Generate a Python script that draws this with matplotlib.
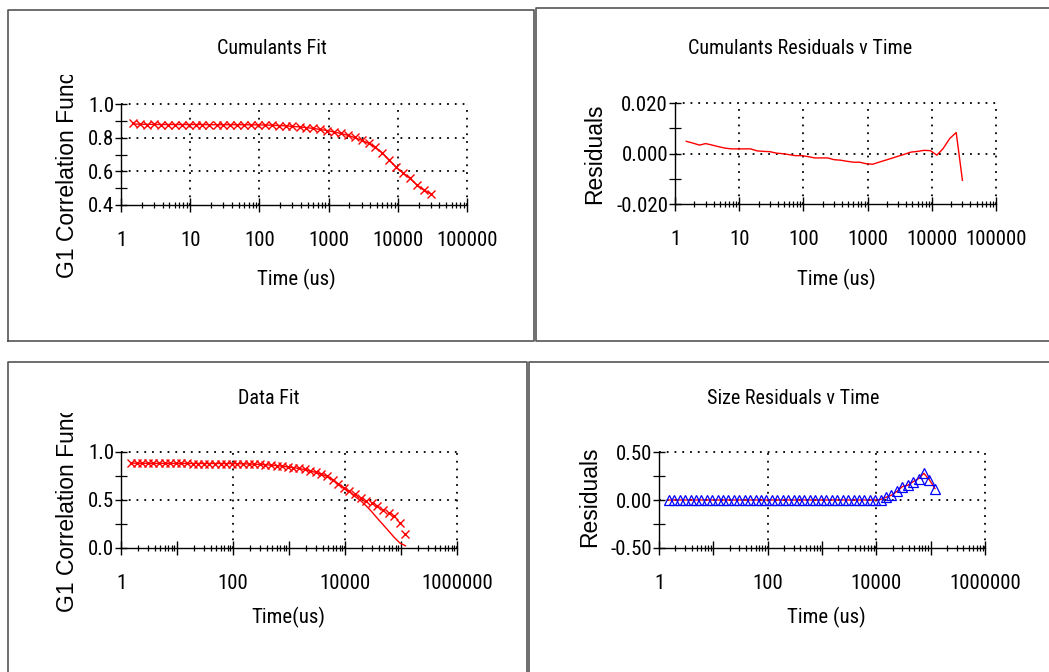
import math
import matplotlib
matplotlib.use("Agg")
import matplotlib.pyplot as plt
from matplotlib import font_manager
from matplotlib.font_manager import FontProperties
from matplotlib.ticker import FixedLocator, FuncFormatter, NullFormatter
from matplotlib.lines import Line2D
from matplotlib.transforms import Bbox

# ---- data -------------------------------------------------------------
tau_us = [1.5, 1.9, 2.4, 3.0, 3.8, 4.7, 6.0, 7.5, 9.5, 12, 15, 19, 24, 30, 38,
          47, 60, 75, 95, 120, 150, 190, 240, 300, 380, 470, 600, 750, 950,
          1200, 1500, 1900, 2400, 3000, 3800, 4700, 6000, 7500, 9500, 12000,
          15000, 19000, 24000, 30000, 38000, 47000, 60000, 75000, 95000, 120000]

g1_measured = [0.886, 0.879, 0.878, 0.879, 0.878, 0.878, 0.878, 0.878, 0.878,
               0.878, 0.878, 0.877, 0.877, 0.877, 0.877, 0.877, 0.877, 0.876,
               0.876, 0.875, 0.874, 0.872, 0.870, 0.867, 0.864, 0.860, 0.855,
               0.849, 0.842, 0.835, 0.826, 0.816, 0.802, 0.786, 0.768, 0.746,
               0.710, 0.668, 0.625, 0.590, 0.560, 0.520, 0.490, 0.465, 0.432,
               0.395, 0.362, 0.330, 0.255, 0.140]

# cumulants fit covers the first 44 delay times (up to 30 ms)
n_cumulants = 44
g1_cumulants_fit = [0.881, 0.880, 0.879, 0.879, 0.878, 0.878, 0.878, 0.878,
                    0.878, 0.878, 0.878, 0.877, 0.877, 0.877, 0.877, 0.877,
                    0.877, 0.876, 0.876, 0.875, 0.874, 0.872, 0.870, 0.867,
                    0.864, 0.860, 0.855, 0.849, 0.842, 0.834, 0.825, 0.814,
                    0.800, 0.784, 0.766, 0.744, 0.709, 0.667, 0.624, 0.589,
                    0.558, 0.518, 0.488, 0.466]

cumulants_residuals = [0.0049, 0.0042, 0.0034, 0.0040, 0.0034, 0.0028, 0.0022,
                       0.0019, 0.0019, 0.0019, 0.0019, 0.0011, 0.0009, 0.0008,
                       0.0002, 0.0000, -0.0004, -0.0008, -0.0008, -0.0012,
                       -0.0017, -0.0017, -0.0017, -0.0024, -0.0026, -0.0030,
                       -0.0034, -0.0034, -0.0040, -0.0042, -0.0034, -0.0026,
                       -0.0018, -0.0010, -0.0002, 0.0006, 0.0009, 0.0013,
                       0.0012, -0.0006, 0.0020, 0.0060, 0.0084, -0.0106]

g1_size_fit = [0.881, 0.880, 0.879, 0.879, 0.878, 0.878, 0.878, 0.878, 0.878,
               0.878, 0.878, 0.877, 0.877, 0.877, 0.877, 0.877, 0.877, 0.876,
               0.876, 0.875, 0.874, 0.872, 0.870, 0.867, 0.864, 0.860, 0.855,
               0.849, 0.842, 0.834, 0.825, 0.814, 0.800, 0.784, 0.766, 0.744,
               0.709, 0.667, 0.624, 0.585, 0.535, 0.490, 0.435, 0.375, 0.305,
               0.245, 0.175, 0.110, 0.050, 0.020]

size_residuals = [0.0] * 39 + [0.005, 0.028, 0.050, 0.090, 0.140, 0.155,
                               0.190, 0.225, 0.280, 0.210, 0.120]

# ---- fonts ------------------------------------------------------------
def _regular(f):
    w = f.weight
    return f.style == "normal" and (w in (400, "normal", "regular", "book"))


def find_narrow_font():
    faces = font_manager.fontManager.ttflist
    for name in ("Liberation Sans Narrow", "Arial Narrow", "Roboto Condensed",
                 "Open Sans Condensed", "Noto Sans Condensed"):
        for f in faces:
            if f.name == name and _regular(f):
                return f.fname
    for fam in ("Noto Sans", "Open Sans", "Roboto", "Inter"):
        for stretch in ("condensed", "semi-condensed"):
            for f in faces:
                if f.name == fam and f.stretch == stretch and _regular(f):
                    return f.fname
    return None


_narrow = find_narrow_font()
if _narrow:
    TXT = FontProperties(fname=_narrow)
    TICK_SIZE, TITLE_SIZE, XLAB_SIZE = 15, 14.5, 15
else:
    TXT = FontProperties(family="Liberation Sans")
    TICK_SIZE, TITLE_SIZE, XLAB_SIZE = 12.5, 12.2, 12.5

W, H = 1049, 672
fig = plt.figure(figsize=(W / 100, H / 100), dpi=100)
fig.patch.set_facecolor("white")


def rect(l, t, r, b):
    return [l / W, 1 - b / H, (r - l) / W, (b - t) / H]


def fpt(x, y):
    return x / W, 1 - y / H


DOT = (0, (1, 3.3))
RED = "#ff0000"
BLUE = "#0000ff"


def style_axes(ax, max_exp, label_step, grid_x, ymajor, yminor, ylim, yfmt):
    ax.set_xscale("log")
    ax.set_xlim(1, 10 ** max_exp)
    ax.set_ylim(*ylim)
    for s in ("top", "right"):
        ax.spines[s].set_visible(False)
    for s in ("left", "bottom"):
        ax.spines[s].set_linewidth(1.0)
        ax.spines[s].set_color("black")
    ax.xaxis.set_major_locator(FixedLocator([10.0 ** k for k in range(max_exp + 1)]))
    ax.xaxis.set_minor_locator(FixedLocator(
        [m * 10.0 ** k for k in range(max_exp) for m in range(2, 10)]))
    ax.xaxis.set_minor_formatter(NullFormatter())
    ax.xaxis.set_major_formatter(FuncFormatter(
        lambda v, p: ("%d" % round(v)) if round(math.log10(v)) % label_step == 0 else ""))
    ax.yaxis.set_major_locator(FixedLocator(ymajor))
    ax.yaxis.set_minor_locator(FixedLocator(yminor))
    ax.yaxis.set_major_formatter(FuncFormatter(lambda v, p: yfmt % v))
    ax.tick_params(axis="x", which="major", direction="inout", length=10, width=1.0,
                   pad=14, labelsize=TICK_SIZE)
    ax.tick_params(axis="x", which="minor", direction="inout", length=5, width=0.9)
    ax.tick_params(axis="y", which="major", direction="inout", length=8, width=1.0,
                   pad=1, labelsize=TICK_SIZE)
    ax.tick_params(axis="y", which="minor", direction="inout", length=8, width=0.9)
    for lbl in ax.get_xticklabels() + ax.get_yticklabels():
        lbl.set_fontproperties(TXT)
        lbl.set_fontsize(TICK_SIZE)
    for gx in grid_x:
        ax.axvline(gx, color="black", lw=1.3, ls=DOT, clip_on=False, zorder=1)
    for gy in ymajor[1:]:
        ax.axhline(gy, color="black", lw=1.3, ls=DOT, clip_on=False, zorder=1)


def panel_text(x, y, s, size):
    fig.text(*fpt(x, y), s, ha="center", va="center", fontproperties=TXT,
             fontsize=size)


def ylabel_text(x, y_bottom, y_clip, s):
    t = fig.text(*fpt(x, y_bottom), s, rotation=90, ha="center", va="bottom",
                 fontsize=16.5, family=["Liberation Sans", "DejaVu Sans"])
    t.set_clip_box(Bbox([[0, 0], [W, H - y_clip]]))
    t.set_clip_on(True)


# ---- Cumulants Fit -----------------------------------------------------
ax1 = fig.add_axes(rect(121, 104, 467, 205))
style_axes(ax1, 5, 1, [10, 100, 1000, 10000, 100000],
           [0.4, 0.6, 0.8, 1.0], [0.5, 0.7, 0.9], (0.4, 1.0), "%.1f")
ax1.plot(tau_us[:n_cumulants], g1_cumulants_fit, color=RED, lw=1.0, zorder=3)
ax1.plot(tau_us[:n_cumulants], g1_measured[:n_cumulants], ls="none", marker="x",
         ms=5.5, mew=1.0, color=RED, zorder=4)
panel_text(272, 49, "Cumulants Fit", TITLE_SIZE)
panel_text(296, 279, "Time (us)", XLAB_SIZE)
ylabel_text(67, 278, 75, "G1 Correlation Function")

# ---- Cumulants Residuals v Time ---------------------------------------
ax2 = fig.add_axes(rect(675, 103.3, 996, 204))
style_axes(ax2, 5, 1, [10, 100, 1000, 10000, 100000],
           [-0.02, 0.0, 0.02], [-0.01, 0.01], (-0.02, 0.02), "%.3f")
ax2.plot(tau_us[:n_cumulants], cumulants_residuals, color=RED, lw=1.0, zorder=3)
panel_text(800, 48, "Cumulants Residuals v Time", TITLE_SIZE)
panel_text(836, 279, "Time (us)", XLAB_SIZE)
ylabel_text(595, 204, 0, "Residuals")

# ---- Data Fit ------------------------------------------------------------
ax3 = fig.add_axes(rect(121, 451.7, 457, 547.7))
style_axes(ax3, 6, 2, [100, 10000, 1000000],
           [0.0, 0.5, 1.0], [0.25, 0.75], (0.0, 1.0), "%.1f")
ax3.plot(tau_us, g1_size_fit, color=RED, lw=1.0, zorder=3)
ax3.plot(tau_us, g1_measured, ls="none", marker="x", ms=5.5, mew=1.0, color=RED,
         zorder=4)
panel_text(269, 399, "Data Fit", TITLE_SIZE)
panel_text(288, 617, "Time(us)", XLAB_SIZE)
ylabel_text(67, 612, 413, "G1 Correlation Function")

# ---- Size Residuals v Time -------------------------------------------------
ax4 = fig.add_axes(rect(659, 452.3, 985, 547.7))
style_axes(ax4, 6, 2, [100, 10000, 1000000],
           [-0.5, 0.0, 0.5], [-0.25, 0.25], (-0.5, 0.5), "%.2f")
ax4.plot(tau_us, size_residuals, color=RED, lw=1.0, zorder=3)
ax4.plot(tau_us, size_residuals, ls="none", marker="^", ms=6.5, mew=0.9,
         mfc="none", mec=BLUE, zorder=4)
panel_text(793, 399, "Size Residuals v Time", TITLE_SIZE)
panel_text(826, 617, "Time (us)", XLAB_SIZE)
ylabel_text(590, 547, 0, "Residuals")

# ---- panel frames -----------------------------------------------------------
FRAME = "#555555"


def frame_line(xs, ys):
    fig.add_artist(Line2D([x / W for x in xs], [1 - y / H for y in ys],
                          color=FRAME, lw=1.2, transform=fig.transFigure))


frame_line([8, 8, 534, 534, 8], [341, 10, 10, 341, 341])
frame_line([1060, 536, 536, 1060], [8, 8, 341, 341])
frame_line([8, 8, 527, 527], [680, 362, 362, 680])
frame_line([1060, 529, 529], [362, 362, 680])

fig.savefig("out.png", dpi=100, facecolor="white")
